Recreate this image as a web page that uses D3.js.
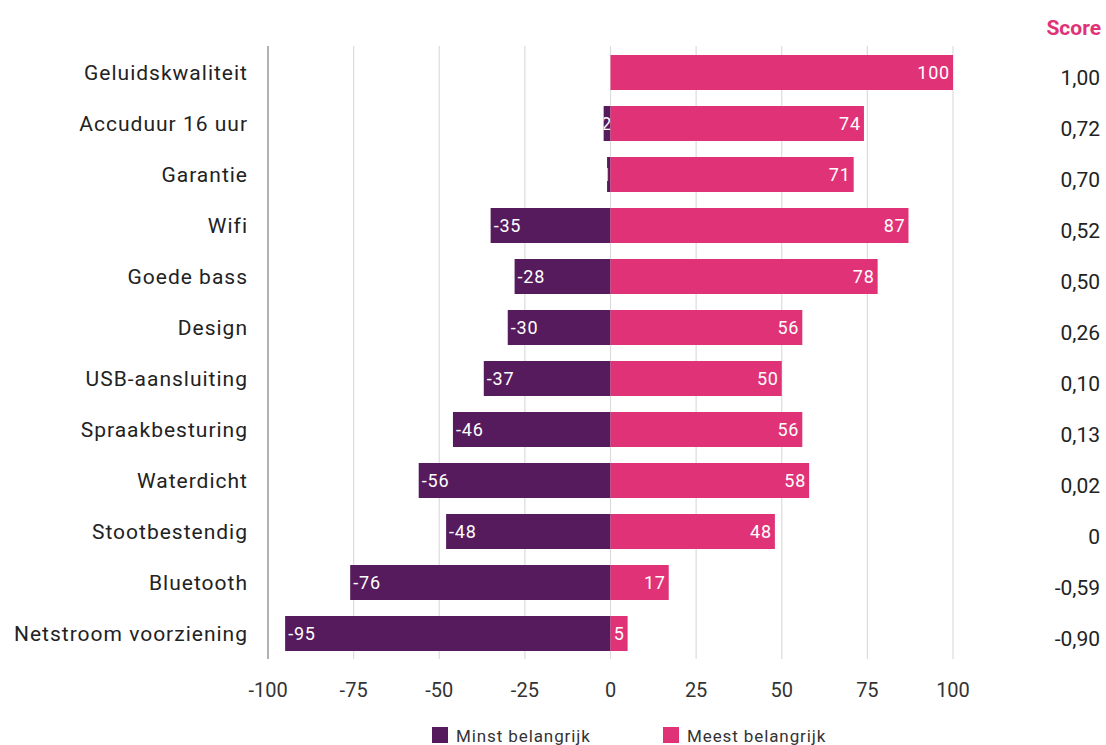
<!DOCTYPE html>
<html>
<head>
<meta charset="utf-8">
<script src="https://cdn.jsdelivr.net/npm/d3@7"></script>
<style>
  body { margin: 0; background: #fff; }
  svg text { font-family: Roboto, "DejaVu Sans", sans-serif; }
</style>
</head>
<body>
<svg id="chart" width="1106" height="745"></svg>
<script>
// data
var categories = ["Geluidskwaliteit", "Accuduur 16 uur", "Garantie", "Wifi", "Goede bass", "Design",
  "USB-aansluiting", "Spraakbesturing", "Waterdicht", "Stootbestendig", "Bluetooth", "Netstroom voorziening"];
var minst = [0, -2, -1, -35, -28, -30, -37, -46, -56, -48, -76, -95];
var meest = [100, 74, 71, 87, 78, 56, 50, 56, 58, 48, 17, 5];
var scores = ["1,00", "0,72", "0,70", "0,52", "0,50", "0,26", "0,10", "0,13", "0,02", "0", "-0,59", "-0,90"];
var ticks = [-100, -75, -50, -25, 0, 25, 50, 75, 100];

var purple = "#561b5c", pink = "#e03377";

var svg = d3.select("#chart");

var x = d3.scaleLinear().domain([-100, 100]).range([268, 953]);
var y = d3.scaleBand().domain(categories).range([46, 660]).paddingInner(16 / 51).paddingOuter(9 / 51);

// grid lines
svg.append("g").selectAll("line")
  .data(ticks.filter(function(t) { return t != -100; }))
  .enter().append("line")
  .attr("x1", function(d) { return x(d); })
  .attr("x2", function(d) { return x(d); })
  .attr("y1", 46).attr("y2", 659)
  .attr("stroke", "#dcdcdc").attr("stroke-width", 1.2);

svg.append("line")
  .attr("x1", x(-100)).attr("x2", x(-100))
  .attr("y1", 46).attr("y2", 659)
  .attr("stroke", "#888").attr("stroke-width", 1.3);

// tick labels
svg.append("g").selectAll("text")
  .data(ticks).enter().append("text")
  .attr("x", function(d) { return x(d); })
  .attr("y", 697)
  .attr("text-anchor", "middle")
  .attr("font-size", 20)
  .attr("fill", "#333")
  .text(function(d) { return d; });

var defs = svg.append("defs");

// bars
var rows = svg.append("g").selectAll("g")
  .data(categories).enter().append("g");

rows.each(function(c, i) {
  var g = d3.select(this);
  var top = y(c), h = y.bandwidth();

  // minst belangrijk
  if (minst[i] < 0) {
    var x0 = x(minst[i]), w = x(0) - x0;
    g.append("rect").attr("x", x0).attr("y", top).attr("width", w).attr("height", h).attr("fill", purple);
    defs.append("clipPath").attr("id", "clipn" + i)
      .append("rect").attr("x", x0).attr("y", top).attr("width", w).attr("height", h);
    g.append("text")
      .attr("clip-path", "url(#clipn" + i + ")")
      .attr("x", Math.min(x0 + 3, x(0) - 15))
      .attr("y", top + h / 2)
      .attr("dy", "0.36em")
      .attr("font-size", 18)
      .attr("letter-spacing", 0.8)
      .attr("fill", "#fff")
      .text(minst[i]);
  }

  // meest belangrijk
  var w2 = x(meest[i]) - x(0);
  g.append("rect").attr("x", x(0)).attr("y", top).attr("width", w2).attr("height", h).attr("fill", pink);
  g.append("text")
    .attr("x", x(meest[i]) - 3)
    .attr("y", top + h / 2)
    .attr("dy", "0.36em")
    .attr("text-anchor", "end")
    .attr("font-size", 18)
    .attr("letter-spacing", 0.8)
    .attr("fill", "#fff")
    .text(meest[i]);

  // category label
  g.append("text")
    .attr("x", 248)
    .attr("y", top + h / 2)
    .attr("dy", "0.36em")
    .attr("text-anchor", "end")
    .attr("font-size", 21)
    .attr("letter-spacing", 1)
    .attr("fill", "#222")
    .text(c);

  // score
  g.append("text")
    .attr("x", 1100)
    .attr("y", top + h / 2 + 5)
    .attr("dy", "0.36em")
    .attr("text-anchor", "end")
    .attr("font-size", 21)
    .attr("fill", "#222")
    .text(scores[i]);
});

svg.append("text")
  .attr("x", 1101).attr("y", 35)
  .attr("text-anchor", "end")
  .attr("font-size", 21)
  .attr("font-weight", "bold")
  .attr("fill", pink)
  .text("Score");

// legend
var legend = [{ label: "Minst belangrijk", color: purple, x: 432 }, { label: "Meest belangrijk", color: pink, x: 663 }];
var lg = svg.append("g").selectAll("g").data(legend).enter().append("g");
lg.append("rect")
  .attr("x", function(d) { return d.x; }).attr("y", 727)
  .attr("width", 16).attr("height", 16)
  .attr("fill", function(d) { return d.color; });
lg.append("text")
  .attr("x", function(d) { return d.x + 24; }).attr("y", 742)
  .attr("font-size", 17)
  .attr("letter-spacing", 0.9)
  .attr("fill", "#333")
  .text(function(d) { return d.label; });
</script>
</body>
</html>
